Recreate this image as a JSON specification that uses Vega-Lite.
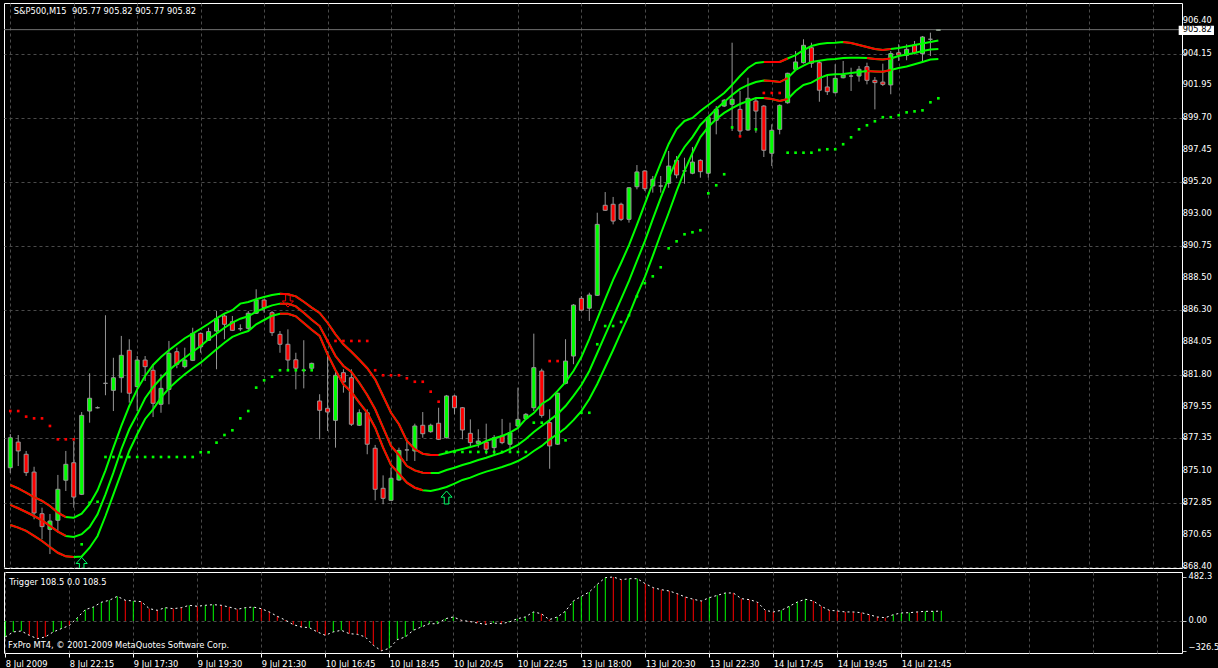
{
"$schema":"https://vega.github.io/schema/vega-lite/v6.json",
"background":"#000000",
"padding":{"left":2,"top":2,"right":0,"bottom":0},
"spacing":0,
"config":{
 "view":{"stroke":"#ffffff","strokeWidth":1},
 "font":"DejaVu Sans",
 "axis":{"labelFont":"DejaVu Sans","labelFontSize":8.3,"labelColor":"#ffffff","gridColor":"#4a4a4a","gridDash":[3,3],"gridWidth":1,"domain":false,"tickColor":"#c8c8c8"}
},
"datasets":{
"a":[{"i":9,"p":868.62,"t":"up"},{"i":55,"p":873.24,"t":"up"},{"i":35,"p":886.95,"t":"dn"}],
"yl":[{"y":868.40},{"y":870.65},{"y":872.85},{"y":875.10},{"y":877.35},{"y":879.55},{"y":881.80},{"y":884.05},{"y":886.30},{"y":888.50},{"y":890.75},{"y":893.00},{"y":895.20},{"y":897.45},{"y":899.70},{"y":901.95},{"y":904.15},{"y":906.40}],
"c":[
{"i":0,"o":875.31,"h":877.66,"l":874.95,"c":877.40,"u":874.11,"m":872.72,"w":871.32,"ru":1,"rm":1,"rl":1,"d":879.26,"dc":"r","v":-175,"vc":"g"},
{"i":1,"o":877.10,"h":877.59,"l":875.43,"c":876.48,"u":873.88,"m":872.49,"w":871.14,"ru":1,"rm":1,"rl":1,"d":879.26,"dc":"r","v":-120,"vc":"g"},
{"i":2,"o":876.25,"h":876.48,"l":874.74,"c":874.97,"u":873.58,"m":872.23,"w":870.91,"ru":1,"rm":1,"rl":1,"d":878.87,"dc":"r","v":-110,"vc":"g"},
{"i":3,"o":875.01,"h":875.38,"l":871.72,"c":872.16,"u":873.27,"m":871.95,"w":870.56,"ru":1,"rm":1,"rl":1,"d":878.75,"dc":"r","v":-157,"vc":"r"},
{"i":4,"o":872.11,"h":872.53,"l":870.33,"c":871.21,"u":873.00,"m":871.65,"w":870.21,"ru":1,"rm":1,"rl":1,"d":878.75,"dc":"r","v":-194,"vc":"r"},
{"i":5,"o":871.02,"h":872.09,"l":869.30,"c":871.60,"u":872.65,"m":871.26,"w":869.79,"ru":1,"rm":1,"rl":1,"d":878.22,"dc":"r","v":-175,"vc":"r"},
{"i":6,"o":871.65,"h":874.81,"l":870.79,"c":873.81,"u":872.18,"m":870.86,"w":869.39,"ru":1,"rm":1,"rl":1,"d":877.29,"dc":"r","v":-120,"vc":"g"},
{"i":7,"o":874.44,"h":876.48,"l":873.69,"c":875.55,"u":871.88,"m":870.56,"w":869.14,"ru":1,"rm":1,"rl":1,"d":877.29,"dc":"r","v":-84,"vc":"g"},
{"i":8,"o":875.66,"h":877.17,"l":872.53,"c":873.27,"u":871.83,"m":870.49,"w":869.09,"ru":0,"rm":0,"rl":1,"d":877.29,"dc":"r","v":-50,"vc":"r"},
{"i":9,"o":873.46,"h":879.19,"l":873.41,"c":878.96,"u":872.11,"m":870.68,"w":869.13,"ru":0,"rm":0,"rl":0,"d":869.98,"dc":"g","v":36,"vc":"g"},
{"i":10,"o":879.26,"h":881.89,"l":878.45,"c":880.15,"u":872.77,"m":871.18,"w":869.74,"ru":0,"rm":0,"rl":0,"d":872.87,"dc":"g","v":124,"vc":"g"},
{"i":11,"o":879.49,"h":879.58,"l":879.44,"c":879.49,"u":873.74,"m":872.07,"w":870.56,"ru":0,"rm":0,"rl":0,"d":872.94,"dc":"g","v":153,"vc":"g"},
{"i":12,"o":881.19,"h":885.93,"l":880.36,"c":881.19,"u":875.13,"m":873.46,"w":871.95,"ru":0,"rm":0,"rl":0,"d":876.06,"dc":"g","v":205,"vc":"g"},
{"i":13,"o":880.70,"h":882.97,"l":879.26,"c":881.58,"u":876.71,"m":874.97,"w":873.46,"ru":0,"rm":0,"rl":0,"d":876.06,"dc":"g","v":227,"vc":"g"},
{"i":14,"o":881.58,"h":884.49,"l":880.54,"c":883.14,"u":878.22,"m":876.60,"w":874.97,"ru":0,"rm":0,"rl":0,"d":876.06,"dc":"g","v":270,"vc":"g"},
{"i":15,"o":883.49,"h":884.26,"l":879.84,"c":880.50,"u":879.61,"m":877.99,"w":876.48,"ru":0,"rm":0,"rl":0,"d":876.06,"dc":"g","v":227,"vc":"r"},
{"i":16,"o":880.96,"h":883.09,"l":879.26,"c":882.81,"u":880.77,"m":879.03,"w":877.64,"ru":0,"rm":0,"rl":0,"d":876.06,"dc":"g","v":219,"vc":"g"},
{"i":17,"o":882.81,"h":883.09,"l":881.35,"c":882.35,"u":881.70,"m":880.15,"w":878.71,"ru":0,"rm":0,"rl":0,"d":876.06,"dc":"g","v":212,"vc":"r"},
{"i":18,"o":882.10,"h":882.52,"l":878.84,"c":879.80,"u":882.47,"m":880.93,"w":879.38,"ru":0,"rm":0,"rl":0,"d":876.06,"dc":"g","v":135,"vc":"r"},
{"i":19,"o":879.73,"h":881.82,"l":879.14,"c":880.84,"u":883.02,"m":881.54,"w":880.19,"ru":0,"rm":0,"rl":0,"d":876.06,"dc":"g","v":117,"vc":"r"},
{"i":20,"o":880.77,"h":884.14,"l":879.73,"c":883.28,"u":883.49,"m":882.10,"w":880.84,"ru":0,"rm":0,"rl":0,"d":876.06,"dc":"g","v":146,"vc":"g"},
{"i":21,"o":883.39,"h":883.67,"l":882.24,"c":882.52,"u":883.91,"m":882.56,"w":881.35,"ru":0,"rm":0,"rl":0,"d":876.06,"dc":"g","v":135,"vc":"r"},
{"i":22,"o":882.35,"h":883.67,"l":882.24,"c":882.81,"u":884.33,"m":882.97,"w":881.82,"ru":0,"rm":0,"rl":0,"d":876.06,"dc":"g","v":146,"vc":"r"},
{"i":23,"o":882.79,"h":885.06,"l":882.74,"c":884.67,"u":884.65,"m":883.39,"w":882.24,"ru":0,"rm":0,"rl":0,"d":876.06,"dc":"g","v":172,"vc":"g"},
{"i":24,"o":884.67,"h":884.73,"l":883.32,"c":883.74,"u":884.99,"m":883.79,"w":882.63,"ru":0,"rm":0,"rl":0,"d":876.39,"dc":"g","v":161,"vc":"r"},
{"i":25,"o":884.19,"h":885.06,"l":884.14,"c":884.79,"u":885.34,"m":884.26,"w":883.09,"ru":0,"rm":0,"rl":0,"d":876.39,"dc":"g","v":172,"vc":"g"},
{"i":26,"o":884.83,"h":886.23,"l":882.17,"c":885.69,"u":885.72,"m":884.65,"w":883.56,"ru":0,"rm":0,"rl":0,"d":877.06,"dc":"g","v":179,"vc":"g"},
{"i":27,"o":885.88,"h":886.00,"l":884.26,"c":885.30,"u":886.04,"m":885.06,"w":884.02,"ru":0,"rm":0,"rl":0,"d":877.59,"dc":"g","v":172,"vc":"r"},
{"i":28,"o":885.48,"h":885.88,"l":884.83,"c":884.88,"u":886.28,"m":885.41,"w":884.42,"ru":0,"rm":0,"rl":0,"d":877.92,"dc":"g","v":153,"vc":"r"},
{"i":29,"o":884.99,"h":885.30,"l":884.83,"c":884.99,"u":886.74,"m":885.69,"w":884.65,"ru":0,"rm":0,"rl":0,"d":878.75,"dc":"g","v":128,"vc":"r"},
{"i":30,"o":885.02,"h":886.23,"l":884.83,"c":886.07,"u":886.85,"m":885.86,"w":884.83,"ru":0,"rm":0,"rl":0,"d":879.26,"dc":"g","v":146,"vc":"g"},
{"i":31,"o":886.07,"h":887.74,"l":886.02,"c":886.99,"u":887.04,"m":886.18,"w":885.30,"ru":0,"rm":0,"rl":0,"d":880.89,"dc":"g","v":153,"vc":"g"},
{"i":32,"o":886.99,"h":887.04,"l":886.11,"c":886.46,"u":887.20,"m":886.42,"w":885.60,"ru":0,"rm":0,"rl":0,"d":881.40,"dc":"g","v":135,"vc":"r"},
{"i":33,"o":886.11,"h":886.23,"l":884.49,"c":884.72,"u":887.34,"m":886.62,"w":885.90,"ru":0,"rm":0,"rl":0,"d":881.65,"dc":"g","v":99,"vc":"r"},
{"i":34,"o":884.60,"h":884.83,"l":883.32,"c":883.91,"u":887.43,"m":886.74,"w":886.04,"ru":2,"rm":2,"rl":2,"d":882.10,"dc":"g","v":51,"vc":"r"},
{"i":35,"o":883.91,"h":884.95,"l":882.17,"c":882.81,"u":887.39,"m":886.74,"w":886.04,"ru":2,"rm":2,"rl":2,"d":882.10,"dc":"g","v":10,"vc":"r"},
{"i":36,"o":882.83,"h":883.32,"l":880.77,"c":882.24,"u":887.25,"m":886.55,"w":885.86,"ru":2,"rm":2,"rl":2,"d":882.10,"dc":"g","v":-40,"vc":"r"},
{"i":37,"o":882.10,"h":884.19,"l":880.84,"c":882.10,"u":886.87,"m":886.11,"w":885.39,"ru":2,"rm":2,"rl":2,"d":882.10,"dc":"g","v":-66,"vc":"r"},
{"i":38,"o":882.24,"h":882.63,"l":882.05,"c":882.58,"u":886.46,"m":885.62,"w":884.92,"ru":2,"rm":2,"rl":2,"d":882.10,"dc":"g","v":-73,"vc":"g"},
{"i":39,"o":879.96,"h":880.43,"l":877.29,"c":879.31,"u":886.09,"m":885.18,"w":884.49,"ru":2,"rm":2,"rl":2,"d":null,"dc":"n","v":-120,"vc":"r"},
{"i":40,"o":879.45,"h":883.44,"l":877.87,"c":879.19,"u":885.41,"m":884.14,"w":883.21,"ru":2,"rm":2,"rl":2,"d":884.14,"dc":"r","v":-157,"vc":"r"},
{"i":41,"o":878.61,"h":882.17,"l":876.71,"c":881.75,"u":884.60,"m":883.09,"w":882.10,"ru":2,"rm":2,"rl":2,"d":884.14,"dc":"r","v":-120,"vc":"g"},
{"i":42,"o":881.93,"h":882.17,"l":880.54,"c":881.28,"u":883.91,"m":882.40,"w":881.12,"ru":2,"rm":2,"rl":2,"d":884.14,"dc":"r","v":-102,"vc":"g"},
{"i":43,"o":881.58,"h":882.17,"l":878.22,"c":878.34,"u":883.39,"m":881.98,"w":880.59,"ru":2,"rm":2,"rl":2,"d":884.14,"dc":"r","v":-139,"vc":"r"},
{"i":44,"o":878.27,"h":879.38,"l":878.22,"c":879.14,"u":882.83,"m":881.23,"w":879.84,"ru":2,"rm":2,"rl":2,"d":884.14,"dc":"r","v":-146,"vc":"r"},
{"i":45,"o":879.14,"h":879.38,"l":876.25,"c":876.95,"u":882.24,"m":880.38,"w":879.14,"ru":2,"rm":2,"rl":2,"d":884.14,"dc":"r","v":-175,"vc":"r"},
{"i":46,"o":876.67,"h":876.90,"l":873.04,"c":873.81,"u":881.47,"m":879.38,"w":878.10,"ru":2,"rm":2,"rl":2,"d":882.10,"dc":"r","v":-266,"vc":"r"},
{"i":47,"o":873.88,"h":874.78,"l":872.77,"c":873.18,"u":880.31,"m":878.10,"w":876.71,"ru":2,"rm":2,"rl":2,"d":881.75,"dc":"r","v":-326.5,"vc":"r"},
{"i":48,"o":873.04,"h":875.31,"l":873.00,"c":874.58,"u":879.14,"m":876.83,"w":875.50,"ru":2,"rm":2,"rl":2,"d":881.75,"dc":"r","v":-300,"vc":"g"},
{"i":49,"o":874.46,"h":876.71,"l":874.39,"c":876.52,"u":878.34,"m":876.20,"w":874.90,"ru":2,"rm":2,"rl":2,"d":881.75,"dc":"r","v":-205,"vc":"g"},
{"i":50,"o":876.55,"h":877.17,"l":875.78,"c":876.55,"u":877.17,"m":875.43,"w":874.27,"ru":2,"rm":2,"rl":2,"d":881.54,"dc":"r","v":-175,"vc":"g"},
{"i":51,"o":876.48,"h":878.38,"l":875.78,"c":878.22,"u":876.60,"m":875.13,"w":873.92,"ru":2,"rm":2,"rl":2,"d":881.30,"dc":"r","v":-102,"vc":"g"},
{"i":52,"o":878.27,"h":879.19,"l":877.40,"c":877.68,"u":876.29,"m":874.97,"w":873.74,"ru":2,"rm":2,"rl":2,"d":881.30,"dc":"r","v":-66,"vc":"g"},
{"i":53,"o":877.82,"h":878.38,"l":877.75,"c":878.27,"u":876.20,"m":874.95,"w":873.69,"ru":2,"rm":2,"rl":0,"d":880.61,"dc":"r","v":-30,"vc":"g"},
{"i":54,"o":878.41,"h":879.49,"l":877.24,"c":877.29,"u":876.20,"m":874.95,"w":873.81,"ru":2,"rm":0,"rl":0,"d":879.91,"dc":"r","v":-30,"vc":"g"},
{"i":55,"o":877.40,"h":880.38,"l":877.35,"c":880.31,"u":876.34,"m":875.15,"w":873.97,"ru":0,"rm":0,"rl":0,"d":876.41,"dc":"g","v":25,"vc":"g"},
{"i":56,"o":880.31,"h":880.38,"l":879.03,"c":879.49,"u":876.48,"m":875.31,"w":874.20,"ru":0,"rm":0,"rl":0,"d":876.41,"dc":"g","v":44,"vc":"g"},
{"i":57,"o":879.49,"h":879.54,"l":877.29,"c":877.94,"u":876.62,"m":875.50,"w":874.46,"ru":0,"rm":0,"rl":0,"d":876.41,"dc":"g","v":8,"vc":"r"},
{"i":58,"o":877.71,"h":878.68,"l":876.71,"c":877.06,"u":876.76,"m":875.66,"w":874.62,"ru":0,"rm":0,"rl":0,"d":876.41,"dc":"g","v":-5,"vc":"r"},
{"i":59,"o":877.01,"h":877.99,"l":876.71,"c":877.17,"u":876.90,"m":875.85,"w":874.85,"ru":0,"rm":0,"rl":0,"d":876.41,"dc":"g","v":-22,"vc":"r"},
{"i":60,"o":877.10,"h":878.38,"l":876.25,"c":876.60,"u":877.17,"m":876.01,"w":875.04,"ru":0,"rm":0,"rl":0,"d":876.41,"dc":"g","v":-37,"vc":"r"},
{"i":61,"o":876.71,"h":877.59,"l":876.25,"c":877.40,"u":877.36,"m":876.20,"w":875.20,"ru":0,"rm":0,"rl":0,"d":876.41,"dc":"g","v":-22,"vc":"g"},
{"i":62,"o":877.52,"h":878.71,"l":876.95,"c":877.06,"u":877.52,"m":876.36,"w":875.36,"ru":0,"rm":0,"rl":0,"d":876.41,"dc":"g","v":-30,"vc":"r"},
{"i":63,"o":876.95,"h":878.45,"l":876.48,"c":877.75,"u":877.75,"m":876.62,"w":875.55,"ru":0,"rm":0,"rl":0,"d":876.41,"dc":"g","v":-11,"vc":"g"},
{"i":64,"o":878.22,"h":880.89,"l":877.99,"c":878.68,"u":878.08,"m":876.90,"w":875.78,"ru":0,"rm":0,"rl":0,"d":876.41,"dc":"g","v":25,"vc":"g"},
{"i":65,"o":878.73,"h":879.12,"l":878.63,"c":879.03,"u":878.71,"m":877.31,"w":876.08,"ru":0,"rm":0,"rl":0,"d":876.41,"dc":"g","v":44,"vc":"g"},
{"i":66,"o":879.49,"h":884.65,"l":879.26,"c":882.28,"u":879.12,"m":877.80,"w":876.48,"ru":0,"rm":0,"rl":0,"d":878.45,"dc":"g","v":99,"vc":"g"},
{"i":67,"o":882.05,"h":882.21,"l":878.80,"c":878.96,"u":879.75,"m":878.22,"w":876.83,"ru":0,"rm":0,"rl":0,"d":878.45,"dc":"g","v":80,"vc":"r"},
{"i":68,"o":878.45,"h":879.38,"l":875.24,"c":876.83,"u":880.10,"m":878.63,"w":877.29,"ru":0,"rm":0,"rl":0,"d":882.74,"dc":"r","v":15,"vc":"r"},
{"i":69,"o":876.95,"h":880.54,"l":876.90,"c":880.50,"u":880.66,"m":879.05,"w":877.66,"ru":0,"rm":0,"rl":0,"d":882.74,"dc":"r","v":44,"vc":"g"},
{"i":70,"o":881.19,"h":884.26,"l":881.12,"c":882.74,"u":881.28,"m":879.61,"w":878.08,"ru":0,"rm":0,"rl":0,"d":877.22,"dc":"g","v":106,"vc":"g"},
{"i":71,"o":883.09,"h":886.71,"l":882.52,"c":886.64,"u":882.05,"m":880.31,"w":878.63,"ru":0,"rm":0,"rl":0,"d":null,"dc":"n","v":219,"vc":"g"},
{"i":72,"o":887.11,"h":887.27,"l":886.23,"c":886.28,"u":883.02,"m":881.07,"w":879.26,"ru":0,"rm":0,"rl":0,"d":879.14,"dc":"g","v":270,"vc":"g"},
{"i":73,"o":886.42,"h":887.50,"l":885.53,"c":887.34,"u":884.28,"m":882.05,"w":880.10,"ru":0,"rm":0,"rl":0,"d":879.14,"dc":"g","v":318,"vc":"g"},
{"i":74,"o":887.32,"h":893.07,"l":887.27,"c":892.26,"u":885.67,"m":883.30,"w":881.14,"ru":0,"rm":0,"rl":0,"d":883.91,"dc":"g","v":402,"vc":"g"},
{"i":75,"o":893.59,"h":894.51,"l":893.19,"c":893.24,"u":887.06,"m":884.56,"w":882.33,"ru":0,"rm":0,"rl":0,"d":885.18,"dc":"g","v":475,"vc":"g"},
{"i":76,"o":893.66,"h":894.17,"l":892.26,"c":892.49,"u":888.39,"m":885.81,"w":883.51,"ru":0,"rm":0,"rl":0,"d":885.18,"dc":"g","v":482.3,"vc":"r"},
{"i":77,"o":893.66,"h":893.77,"l":892.49,"c":892.61,"u":889.57,"m":887.06,"w":884.76,"ru":0,"rm":0,"rl":0,"d":885.46,"dc":"g","v":453,"vc":"r"},
{"i":78,"o":892.61,"h":894.86,"l":892.38,"c":894.81,"u":890.82,"m":888.32,"w":885.95,"ru":0,"rm":0,"rl":0,"d":885.93,"dc":"g","v":464,"vc":"g"},
{"i":79,"o":894.88,"h":896.39,"l":894.70,"c":895.91,"u":892.22,"m":889.71,"w":887.34,"ru":0,"rm":0,"rl":0,"d":887.25,"dc":"g","v":464,"vc":"g"},
{"i":80,"o":895.98,"h":896.03,"l":894.58,"c":894.74,"u":893.68,"m":891.10,"w":888.59,"ru":0,"rm":0,"rl":0,"d":888.16,"dc":"g","v":409,"vc":"r"},
{"i":81,"o":894.93,"h":895.63,"l":894.47,"c":895.40,"u":895.14,"m":892.63,"w":890.06,"ru":0,"rm":0,"rl":0,"d":888.64,"dc":"g","v":365,"vc":"r"},
{"i":82,"o":894.93,"h":895.63,"l":894.47,"c":894.93,"u":896.53,"m":894.10,"w":891.59,"ru":0,"rm":0,"rl":0,"d":889.27,"dc":"g","v":343,"vc":"r"},
{"i":83,"o":895.12,"h":897.37,"l":894.81,"c":896.32,"u":897.86,"m":895.49,"w":893.05,"ru":0,"rm":0,"rl":0,"d":890.59,"dc":"g","v":329,"vc":"r"},
{"i":84,"o":896.72,"h":897.02,"l":895.47,"c":895.70,"u":898.90,"m":896.74,"w":894.58,"ru":0,"rm":0,"rl":0,"d":891.08,"dc":"g","v":299,"vc":"r"},
{"i":85,"o":895.98,"h":896.90,"l":895.09,"c":895.98,"u":899.46,"m":897.65,"w":895.98,"ru":0,"rm":0,"rl":0,"d":891.57,"dc":"g","v":263,"vc":"r"},
{"i":86,"o":895.82,"h":897.65,"l":895.75,"c":896.60,"u":899.67,"m":898.34,"w":897.23,"ru":0,"rm":0,"rl":0,"d":891.71,"dc":"g","v":238,"vc":"r"},
{"i":87,"o":896.72,"h":896.79,"l":895.51,"c":895.93,"u":900.15,"m":899.18,"w":898.34,"ru":0,"rm":0,"rl":0,"d":891.85,"dc":"g","v":219,"vc":"r"},
{"i":88,"o":895.82,"h":899.81,"l":895.51,"c":899.69,"u":900.57,"m":899.74,"w":899.04,"ru":0,"rm":0,"rl":0,"d":894.42,"dc":"g","v":255,"vc":"g"},
{"i":89,"o":899.51,"h":900.50,"l":898.53,"c":900.27,"u":900.99,"m":900.29,"w":899.60,"ru":0,"rm":0,"rl":0,"d":894.98,"dc":"g","v":281,"vc":"g"},
{"i":90,"o":900.50,"h":900.99,"l":900.43,"c":900.90,"u":901.41,"m":900.78,"w":900.02,"ru":0,"rm":0,"rl":0,"d":895.75,"dc":"g","v":307,"vc":"g"},
{"i":91,"o":900.62,"h":904.91,"l":898.76,"c":900.97,"u":901.97,"m":901.27,"w":900.36,"ru":0,"rm":0,"rl":0,"d":899.01,"dc":"g","v":307,"vc":"r"},
{"i":92,"o":900.27,"h":901.55,"l":898.41,"c":898.76,"u":902.59,"m":901.69,"w":900.64,"ru":0,"rm":0,"rl":0,"d":898.39,"dc":"r","v":245,"vc":"r"},
{"i":93,"o":898.83,"h":902.47,"l":898.76,"c":901.04,"u":903.15,"m":901.97,"w":900.85,"ru":0,"rm":0,"rl":0,"d":null,"dc":"n","v":234,"vc":"r"},
{"i":94,"o":900.85,"h":901.08,"l":898.64,"c":900.15,"u":903.50,"m":902.17,"w":901.06,"ru":0,"rm":0,"rl":0,"d":898.88,"dc":"g","v":208,"vc":"r"},
{"i":95,"o":900.50,"h":900.57,"l":896.95,"c":897.42,"u":903.57,"m":902.28,"w":901.06,"ru":3,"rm":3,"rl":3,"d":901.41,"dc":"r","v":117,"vc":"r"},
{"i":96,"o":897.21,"h":899.23,"l":896.32,"c":898.81,"u":903.57,"m":902.24,"w":900.99,"ru":3,"rm":3,"rl":3,"d":901.41,"dc":"r","v":99,"vc":"r"},
{"i":97,"o":898.88,"h":900.62,"l":898.53,"c":900.55,"u":903.57,"m":902.17,"w":900.85,"ru":3,"rm":3,"rl":3,"d":901.41,"dc":"r","v":117,"vc":"g"},
{"i":98,"o":900.73,"h":902.82,"l":900.66,"c":902.78,"u":903.81,"m":902.45,"w":900.99,"ru":3,"rm":3,"rl":3,"d":897.25,"dc":"g","v":161,"vc":"g"},
{"i":99,"o":903.06,"h":904.33,"l":903.01,"c":903.57,"u":904.05,"m":903.01,"w":901.55,"ru":0,"rm":0,"rl":0,"d":897.25,"dc":"g","v":208,"vc":"g"},
{"i":100,"o":903.52,"h":905.15,"l":903.46,"c":904.73,"u":904.40,"m":903.32,"w":901.97,"ru":0,"rm":0,"rl":0,"d":897.25,"dc":"g","v":238,"vc":"g"},
{"i":101,"o":904.56,"h":904.91,"l":903.17,"c":903.48,"u":904.68,"m":903.57,"w":902.13,"ru":0,"rm":0,"rl":0,"d":897.25,"dc":"g","v":219,"vc":"r"},
{"i":102,"o":903.52,"h":903.64,"l":900.80,"c":901.60,"u":904.82,"m":903.66,"w":902.45,"ru":0,"rm":0,"rl":0,"d":897.44,"dc":"g","v":161,"vc":"r"},
{"i":103,"o":901.83,"h":902.59,"l":901.27,"c":901.50,"u":904.89,"m":903.74,"w":902.66,"ru":0,"rm":0,"rl":0,"d":897.49,"dc":"g","v":117,"vc":"r"},
{"i":104,"o":901.43,"h":903.41,"l":901.37,"c":902.43,"u":904.91,"m":903.78,"w":902.71,"ru":0,"rm":0,"rl":0,"d":897.49,"dc":"g","v":110,"vc":"r"},
{"i":105,"o":902.47,"h":903.64,"l":902.43,"c":902.66,"u":904.96,"m":903.85,"w":902.73,"ru":4,"rm":0,"rl":0,"d":897.84,"dc":"g","v":99,"vc":"r"},
{"i":106,"o":902.59,"h":903.17,"l":901.55,"c":902.59,"u":904.89,"m":903.87,"w":902.80,"ru":4,"rm":0,"rl":0,"d":898.32,"dc":"g","v":99,"vc":"r"},
{"i":107,"o":902.59,"h":903.29,"l":902.20,"c":903.06,"u":904.75,"m":903.87,"w":902.87,"ru":4,"rm":0,"rl":0,"d":898.88,"dc":"g","v":91,"vc":"r"},
{"i":108,"o":903.24,"h":903.52,"l":902.01,"c":902.29,"u":904.61,"m":903.85,"w":902.94,"ru":4,"rm":4,"rl":4,"d":899.16,"dc":"g","v":69,"vc":"r"},
{"i":109,"o":902.29,"h":902.52,"l":900.27,"c":902.13,"u":904.47,"m":903.78,"w":902.91,"ru":4,"rm":4,"rl":4,"d":899.44,"dc":"g","v":44,"vc":"r"},
{"i":110,"o":902.17,"h":903.45,"l":901.90,"c":902.01,"u":904.40,"m":903.74,"w":902.89,"ru":4,"rm":4,"rl":4,"d":899.72,"dc":"g","v":36,"vc":"r"},
{"i":111,"o":901.97,"h":904.33,"l":901.32,"c":904.15,"u":904.47,"m":903.81,"w":903.01,"ru":4,"rm":4,"rl":4,"d":899.72,"dc":"g","v":69,"vc":"g"},
{"i":112,"o":904.21,"h":904.80,"l":903.64,"c":904.05,"u":904.54,"m":903.98,"w":903.15,"ru":0,"rm":0,"rl":0,"d":899.86,"dc":"g","v":88,"vc":"g"},
{"i":113,"o":904.03,"h":904.80,"l":903.69,"c":904.45,"u":904.65,"m":904.09,"w":903.25,"ru":0,"rm":0,"rl":0,"d":900.06,"dc":"g","v":91,"vc":"g"},
{"i":114,"o":904.75,"h":905.03,"l":904.10,"c":904.21,"u":904.75,"m":904.19,"w":903.41,"ru":0,"rm":0,"rl":0,"d":900.13,"dc":"g","v":99,"vc":"r"},
{"i":115,"o":904.15,"h":905.38,"l":903.52,"c":905.31,"u":904.86,"m":904.33,"w":903.57,"ru":0,"rm":0,"rl":0,"d":900.20,"dc":"g","v":106,"vc":"g"},
{"i":116,"o":905.15,"h":905.61,"l":903.98,"c":905.15,"u":904.96,"m":904.44,"w":903.74,"ru":0,"rm":0,"rl":0,"d":900.76,"dc":"g","v":106,"vc":"g"},
{"i":117,"o":905.77,"h":905.82,"l":905.77,"c":905.82,"u":905.06,"m":904.47,"w":903.78,"ru":0,"rm":0,"rl":0,"d":901.04,"dc":"g","v":108.5,"vc":"g"}
]},
"vconcat":[
{
 "width":1178,"height":565,
 "data":{"name":"c"},
 "layer":[
  {"mark":{"type":"rule","color":"#969696","strokeWidth":1},
   "encoding":{
    "x":{"field":"i","type":"quantitative","scale":{"domain":[-0.1625,147.0875],"nice":false,"zero":false},
         "axis":{"values":[0,4,8,12,16,20,24,28,32,36,40,44,48,52,56,60,64,68,72,76,80,84,88,92,96,100,104,108,112,116,120,124,128,132,136,140,144],"labels":false,"ticks":false,"domain":false,"grid":true,"title":null}},
    "y":{"field":"l","type":"quantitative","scale":{"domain":[868.329,907.676],"nice":false,"zero":false},
         "axis":{"orient":"right","values":[868.40,870.65,872.85,875.10,877.35,879.55,881.80,884.05,886.30,888.50,890.75,893.00,895.20,897.45,899.70,901.95,904.15,906.40],"labels":false,"tickSize":4,"grid":true,"title":null}},
    "y2":{"field":"h"}}},
  {"data":{"name":"yl"},"mark":{"type":"text","align":"left","baseline":"middle","color":"#ffffff","fontSize":8.3,"font":"DejaVu Sans","clip":false},
   "encoding":{"x":{"datum":147.8},"y":{"field":"y","type":"quantitative"},"text":{"field":"y","type":"quantitative","format":".2f"}}},
  {"data":{"values":[{}]},"mark":{"type":"rule","color":"#707070","strokeWidth":1},"encoding":{"y":{"datum":905.82}}},
  {"mark":{"type":"bar","width":4,"stroke":"#969696","strokeWidth":1},
   "encoding":{"x":{"field":"i","type":"quantitative"},"y":{"field":"o","type":"quantitative"},"y2":{"field":"c"},
    "fill":{"condition":{"test":"datum.c > datum.o","value":"#00ff00"},"value":"#ff0000"}}},
  {"mark":{"type":"line","color":"#00ff00","strokeWidth":2},"encoding":{"x":{"field":"i","type":"quantitative"},"y":{"field":"u","type":"quantitative"}}},
  {"mark":{"type":"line","color":"#00ff00","strokeWidth":2},"encoding":{"x":{"field":"i","type":"quantitative"},"y":{"field":"m","type":"quantitative"}}},
  {"mark":{"type":"line","color":"#00ff00","strokeWidth":2},"encoding":{"x":{"field":"i","type":"quantitative"},"y":{"field":"w","type":"quantitative"}}},
  {"transform":[{"filter":"datum.ru > 0"}],"mark":{"type":"line","color":"#ff0000","strokeWidth":2},"encoding":{"x":{"field":"i","type":"quantitative"},"y":{"field":"u","type":"quantitative"},"detail":{"field":"ru","type":"nominal"}}},
  {"transform":[{"filter":"datum.rm > 0"}],"mark":{"type":"line","color":"#ff0000","strokeWidth":2},"encoding":{"x":{"field":"i","type":"quantitative"},"y":{"field":"m","type":"quantitative"},"detail":{"field":"rm","type":"nominal"}}},
  {"transform":[{"filter":"datum.rl > 0"}],"mark":{"type":"line","color":"#ff0000","strokeWidth":2},"encoding":{"x":{"field":"i","type":"quantitative"},"y":{"field":"w","type":"quantitative"},"detail":{"field":"rl","type":"nominal"}}},
  {"transform":[{"filter":"datum.d != null"}],"mark":{"type":"square","size":7,"opacity":1},
   "encoding":{"x":{"field":"i","type":"quantitative"},"y":{"field":"d","type":"quantitative"},
    "color":{"condition":{"test":"datum.dc == 'g'","value":"#00ff00"},"value":"#ff0000"}}},
  {"data":{"name":"a"},"mark":{"type":"point","filled":false,"strokeWidth":1,"size":170,"opacity":1,"clip":true},
   "encoding":{"x":{"field":"i","type":"quantitative"},"y":{"field":"p","type":"quantitative"},
    "shape":{"field":"t","type":"nominal","scale":{"domain":["up","dn"],"range":["M0,-1L0.85,-0.05L0.35,-0.05L0.35,1L-0.35,1L-0.35,-0.05L-0.85,-0.05Z","M0,1L0.85,0.05L0.35,0.05L0.35,-1L-0.35,-1L-0.35,0.05L-0.85,0.05Z"]},"legend":null},
    "color":{"field":"t","type":"nominal","scale":{"domain":["up","dn"],"range":["#00ff66","#ff0000"]},"legend":null}}},
  {"data":{"values":[{}]},"mark":{"type":"text","text":"S&P500,M15 \u00a0905.77 905.82 905.77 905.82","align":"left","baseline":"alphabetic","color":"#ffffff","fontSize":8.3,"font":"DejaVu Sans"},
   "encoding":{"x":{"datum":0.43},"y":{"datum":906.91}}},
  {"data":{"values":[{}]},"mark":{"type":"rect","fill":"#ffffff","clip":false},
   "encoding":{"x":{"datum":147.3},"x2":{"datum":151.75},"y":{"datum":906.10},"y2":{"datum":905.44}}},
  {"data":{"values":[{}]},"mark":{"type":"text","text":"905.82","align":"left","baseline":"middle","color":"#000000","fontSize":8.3,"font":"DejaVu Sans","clip":false},
   "encoding":{"x":{"datum":147.8},"y":{"datum":905.79}}}
 ]
},
{
 "width":1178,"height":81,
 "data":{"name":"c"},
 "layer":[
  {"mark":{"type":"rule","strokeWidth":1},
   "encoding":{
    "x":{"field":"i","type":"quantitative","scale":{"domain":[-0.1625,147.0875],"nice":false,"zero":false},
         "axis":{"values":[0,4,8,12,16,20,24,28,32,36,40,44,48,52,56,60,64,68,72,76,80,84,88,92,96,100,104,108,112,116,120,124,128,132,136,140,144],
          "labelExpr":"(datum.value % 8 === 0 && datum.value <= 112) ? ['8 Jul 2009','8 Jul 22:15','9 Jul 17:30','9 Jul 19:30','9 Jul 21:30','10 Jul 16:45','10 Jul 18:45','10 Jul 20:45','10 Jul 22:45','13 Jul 18:00','13 Jul 20:30','13 Jul 22:30','14 Jul 17:45','14 Jul 19:45','14 Jul 21:45'][datum.value / 8] : ''",
          "labelAlign":"left","labelBaseline":"top","labelPadding":2,"labelFlush":false,"labelOverlap":false,"labelBound":false,
          "tickSize":4,"tickColor":"#ffffff","tickOpacity":{"condition":{"test":"datum.value % 8 === 0 && datum.value <= 112","value":1},"value":0},
          "grid":true,"domain":false,"title":null}},
    "y":{"field":"v","type":"quantitative","scale":{"domain":[-351,537],"nice":false,"zero":false},
         "axis":{"orient":"right","values":[482.3,0,-326.5],"labelExpr":"datum.value == 0 ? '0.00' : format(datum.value, '.1f')","tickSize":4,"labelPadding":2,"labelOverlap":false,"labelBound":false,
          "grid":true,"gridOpacity":{"condition":{"test":"datum.value == 0","value":1},"value":0},
          "labelOffset":{"condition":{"test":"datum.value < 0","value":-3},"value":0},"title":null}},
    "y2":{"datum":0},
    "color":{"condition":{"test":"datum.vc == 'g'","value":"#00ff00"},"value":"#ff0000"}}},
  {"mark":{"type":"line","color":"#ffffff","strokeWidth":1,"strokeDash":[2,3]},
   "encoding":{"x":{"field":"i","type":"quantitative"},"y":{"field":"v","type":"quantitative"}}},
  {"data":{"values":[{}]},"mark":{"type":"text","text":"Trigger 108.5 0.0 108.5","align":"left","baseline":"alphabetic","color":"#ffffff","fontSize":8.3,"font":"DejaVu Sans"},
   "encoding":{"x":{"datum":0.5},"y":{"datum":394}}},
  {"data":{"values":[{}]},"mark":{"type":"text","text":"FxPro MT4, © 2001-2009 MetaQuotes Software Corp.","align":"left","baseline":"alphabetic","color":"#ffffff","fontSize":8.3,"font":"DejaVu Sans"},
   "encoding":{"x":{"datum":0.34},"y":{"datum":-296}}}
 ]
}
]
}
